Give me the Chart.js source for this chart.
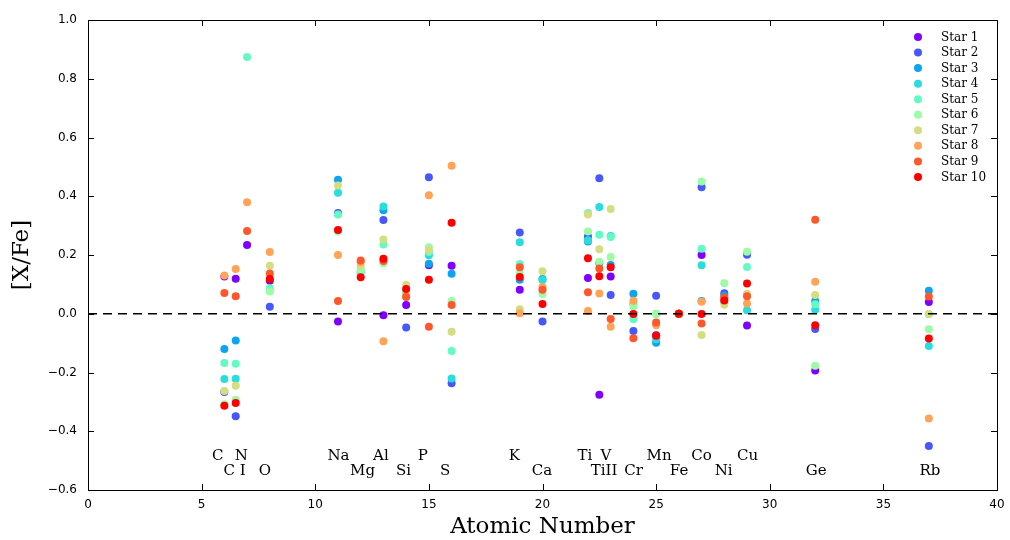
<!DOCTYPE html>
<html>
<head>
<meta charset="utf-8">
<title>[X/Fe] vs Atomic Number</title>
<script src="https://cdn.jsdelivr.net/npm/chart.js@4.4.1/dist/chart.umd.min.js"></script>
<style>
  html, body { margin: 0; padding: 0; background: #fff; }
  #wrap { width: 1010px; height: 540px; }
</style>
</head>
<body>
<div id="wrap"><canvas id="abundChart" width="1010" height="540"></canvas></div>
<script>
// atomic number of each measured species (C, CI, N, O, Na, Mg, Al, Si, P, S, K, Ca, Ti, TiII, V, Cr, Mn, Fe, Co, Ni, Cu, Ge, Rb)
const atomicNumbers = [6, 6.5, 7, 8, 11, 12, 13, 14, 15, 16, 19, 20, 22, 22.5, 23, 24, 25, 26, 27, 28, 29, 32, 37]

// [X/Fe] per star, same order as atomicNumbers (null = not measured)
const star1  = [0.127, 0.119, 0.234, 0.112, -0.026, null, -0.005, 0.030, 0.165, 0.163, 0.082, null, 0.122, -0.276, 0.127, null, -0.073, 0, 0.200, null, -0.040, -0.193, 0.040]
const star2  = [-0.266, -0.349, null, 0.024, 0.343, null, 0.319, -0.047, 0.465, -0.237, 0.277, -0.026, 0.263, 0.461, 0.064, -0.059, 0.061, 0, 0.431, 0.070, 0.201, -0.052, -0.450]
const star3  = [-0.120, -0.091, null, null, 0.456, null, 0.352, null, 0.170, 0.136, 0.116, 0.118, 0.246, 0.172, 0.166, 0.068, -0.099, 0, 0.043, 0.062, null, 0.043, 0.078]
const star4  = [-0.222, -0.221, null, null, 0.412, 0.141, 0.365, 0.075, 0.199, -0.220, 0.243, 0.115, 0.250, 0.363, 0.265, 0.033, -0.087, 0, 0.165, 0.040, 0.012, 0.014, -0.110]
const star5  = [-0.168, -0.170, 0.874, 0.087, 0.338, 0.145, 0.236, 0.072, 0.210, -0.127, 0.169, 0.080, 0.343, 0.269, 0.261, -0.019, 0.000, 0, 0.221, null, 0.159, 0.032, -0.002]
const star6  = [-0.308, -0.293, null, 0.076, 0.280, 0.150, 0.172, 0.070, 0.226, 0.043, 0.140, 0.067, 0.280, 0.177, 0.193, 0.025, -0.002, 0, 0.450, 0.104, 0.211, -0.177, -0.053]
const star7  = [-0.263, -0.245, null, 0.163, 0.437, 0.163, 0.253, 0.098, 0.217, -0.061, 0.015, 0.145, 0.338, 0.220, 0.357, null, null, 0, -0.072, 0.031, 0.068, 0.064, -0.001]
const star8  = [0.130, 0.152, 0.380, 0.210, 0.200, 0.176, -0.094, 0.060, 0.403, 0.504, 0.002, 0.091, 0.009, 0.069, -0.044, 0.044, -0.039, 0, 0.041, 0.050, 0.035, 0.109, -0.357]
const star9  = [0.071, 0.060, 0.282, 0.137, 0.043, 0.181, 0.180, 0.057, -0.044, 0.030, 0.158, 0.082, 0.073, 0.154, -0.018, -0.083, -0.030, 0, -0.033, 0.055, 0.060, 0.320, 0.059]
const star10 = [-0.313, -0.304, null, 0.118, 0.285, 0.124, 0.187, 0.084, 0.116, 0.310, 0.125, 0.033, 0.189, 0.128, 0.158, -0.001, -0.075, 0, -0.001, 0.045, 0.103, -0.039, -0.084]

const starNames = ['Star 1', 'Star 2', 'Star 3', 'Star 4', 'Star 5', 'Star 6', 'Star 7', 'Star 8', 'Star 9', 'Star 10']
const starValues = [star1, star2, star3, star4, star5, star6, star7, star8, star9, star10]
// matplotlib "rainbow" sampled at 10 steps
const starColors = ['#8000ff', '#4757fb', '#0ea4f0', '#2adddd', '#63fbc3', '#9cfba4', '#d4dd80', '#ffa457', '#ff572c', '#ff0000']

// element names written under the points (x in atomic number, row 0 = upper, 1 = lower)
const elementNames = ['C', 'C I', 'N', 'O', 'Na', 'Mg', 'Al', 'Si', 'P', 'S', 'K', 'Ca', 'Ti', 'TiII', 'V', 'Cr', 'Mn', 'Fe', 'Co', 'Ni', 'Cu', 'Ge', 'Rb']
const elementLabelX = [5.71, 6.45, 6.75, 7.78, 11.02, 12.08, 12.89, 13.88, 14.73, 15.72, 18.76, 19.98, 21.87, 22.71, 22.79, 24.01, 25.13, 26.01, 27.0, 27.97, 29.02, 32.04, 37.05]
const elementLabelRow = [0, 1, 0, 1, 0, 1, 0, 1, 0, 1, 0, 1, 0, 1, 0, 1, 0, 1, 0, 1, 0, 1, 1]
const labelRowY = [-0.483, -0.534]

const xTicks = [0, 5, 10, 15, 20, 25, 30, 35, 40]
const yTicks = [-0.6, -0.4, -0.2, 0.0, 0.2, 0.4, 0.6, 0.8, 1.0]

const SERIF = "'DejaVu Serif', serif"
const SANS = "'DejaVu Sans', sans-serif"

function fmtY(v) {
    const s = Math.abs(v).toFixed(1)
    return v < -1e-9 ? '\u2212' + s : s
}

// frame, inward ticks, element names, axis titles and legend
const decorations = {
    id: 'decorations',
    afterDraw(chart) {
        const ctx = chart.ctx
        const a = chart.chartArea
        const xs = chart.scales.x
        const ys = chart.scales.y
        ctx.save()

        // element names
        ctx.fillStyle = '#000'
        ctx.font = '15px ' + SERIF
        ctx.textAlign = 'center'
        ctx.textBaseline = 'middle'
        elementNames.forEach((name, i) => {
            ctx.fillText(name, xs.getPixelForValue(elementLabelX[i]), ys.getPixelForValue(labelRowY[elementLabelRow[i]]))
        })

        // frame
        ctx.strokeStyle = '#000'
        ctx.lineWidth = 1
        ctx.strokeRect(Math.round(a.left) + 0.5, Math.round(a.top) + 0.5, Math.round(a.right - a.left), Math.round(a.bottom - a.top))

        // inward ticks on all sides
        const tl = 6
        ctx.beginPath()
        xTicks.forEach(t => {
            const px = Math.round(xs.getPixelForValue(t)) + 0.5
            ctx.moveTo(px, a.bottom); ctx.lineTo(px, a.bottom - tl)
            ctx.moveTo(px, a.top); ctx.lineTo(px, a.top + tl)
        })
        yTicks.forEach(t => {
            const py = Math.round(ys.getPixelForValue(t)) + 0.5
            ctx.moveTo(a.left, py); ctx.lineTo(a.left + tl, py)
            ctx.moveTo(a.right, py); ctx.lineTo(a.right - tl, py)
        })
        ctx.stroke()

        // axis titles
        ctx.font = '23px ' + SERIF
        ctx.textAlign = 'center'
        ctx.textBaseline = 'middle'
        ctx.fillText('Atomic Number', (a.left + a.right) / 2, 527)
        ctx.translate(22, (a.top + a.bottom) / 2)
        ctx.rotate(-Math.PI / 2)
        ctx.fillText('[X/Fe]', 0, 0)
        ctx.restore()

        // legend
        ctx.save()
        ctx.font = '12px ' + SERIF
        ctx.textAlign = 'left'
        ctx.textBaseline = 'middle'
        chart.data.datasets.filter(d => d.isStar).forEach((d, i) => {
            const y = 37 + i * 15.55
            ctx.fillStyle = d.backgroundColor
            ctx.beginPath()
            ctx.arc(918, y, 4, 0, Math.PI * 2)
            ctx.fill()
            ctx.fillStyle = '#000'
            ctx.fillText(d.label, 941, y + 0.5)
        })
        ctx.restore()
    }
}

const datasets = starNames.map((name, i) => ({
    label: name,
    isStar: true,
    data: atomicNumbers.map((x, j) => ({ x: x, y: starValues[i][j] })).filter(p => p.y !== null),
    backgroundColor: starColors[i],
    borderWidth: 0,
    pointRadius: 4,
    pointHoverRadius: 4,
    order: starNames.length - 1 - i   // later stars drawn on top
}))

datasets.push({
    type: 'line',
    label: 'zero',
    data: [{ x: 0, y: 0 }, { x: 40, y: 0 }],
    borderColor: '#000',
    borderWidth: 1.4,
    borderDash: [9, 6],
    pointRadius: 0,
    fill: false,
    order: -1
})

const ctx = document.getElementById('abundChart').getContext('2d')

new Chart(ctx, {
    type: 'scatter',
    data: { datasets: datasets },
    options: {
        responsive: false,
        animation: false,
        layout: { padding: { top: 20, right: 13, left: 0, bottom: 0 } },
        plugins: {
            legend: { display: false },
            tooltip: { enabled: false }
        },
        scales: {
            x: {
                type: 'linear',
                min: 0,
                max: 40,
                afterFit: s => { s.height = 50; s.paddingLeft = 0; s.paddingRight = 0 },
                afterBuildTicks: s => { s.ticks = xTicks.map(v => ({ value: v })) },
                grid: { display: false, drawTicks: false },
                border: { display: false },
                ticks: {
                    color: '#000',
                    font: { family: SANS, size: 12 },
                    padding: 8,
                    maxRotation: 0,
                    callback: v => String(v)
                }
            },
            y: {
                type: 'linear',
                min: -0.6,
                max: 1.0,
                afterFit: s => { s.width = 88; s.paddingTop = 0; s.paddingBottom = 0 },
                afterBuildTicks: s => { s.ticks = yTicks.map(v => ({ value: v })) },
                grid: { display: false, drawTicks: false },
                border: { display: false },
                ticks: {
                    color: '#000',
                    font: { family: SANS, size: 12 },
                    padding: 11,
                    callback: v => fmtY(v)
                }
            }
        }
    },
    plugins: [decorations]
})
</script>
</body>
</html>
